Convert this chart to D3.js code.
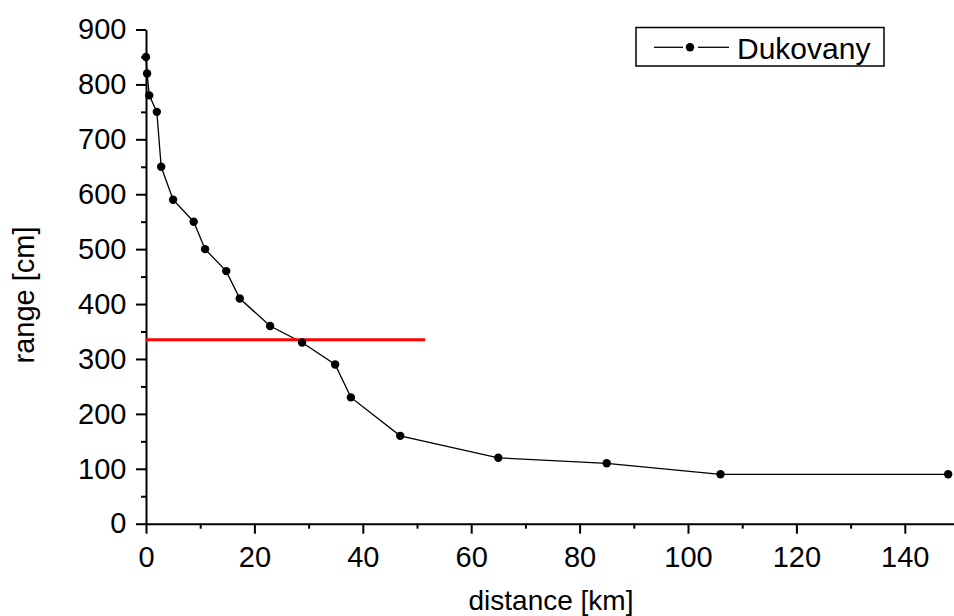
<!DOCTYPE html>
<html>
<head>
<meta charset="utf-8">
<script src="https://cdn.jsdelivr.net/npm/d3@7"></script>
<style>
  html, body { margin: 0; padding: 0; background: #fff; }
  svg { display: block; }
  text { font-family: Arial, "Liberation Sans", sans-serif; fill: #000; }
</style>
</head>
<body>
<svg id="chart" width="954" height="616"></svg>
<script>
// ---- data ----
const distanceKm = [0, 0.2, 0.6, 2, 2.8, 5, 8.8, 10.9, 14.8, 17.3, 22.9, 28.8, 34.9, 37.8, 46.9, 65, 85, 106, 148];
const rangeCm    = [850, 820, 780, 750, 650, 590, 550, 500, 460, 410, 360, 330, 290, 230, 160, 120, 110, 90, 90];
const seriesName = "Dukovany";
const thresholdY = 335;
const thresholdX = [0, 51.5];
const xTicks = [0, 20, 40, 60, 80, 100, 120, 140];
const yTicks = [0, 100, 200, 300, 400, 500, 600, 700, 800, 900];
const xMinorTicks = [10, 30, 50, 70, 90, 110, 130, 150];
const yMinorTicks = [50, 150, 250, 350, 450, 550, 650, 750, 850];
const xLabel = "distance [km]";
const yLabel = "range [cm]";

// ---- layout ----
const svg = d3.select("#chart");
const x = d3.scaleLinear().domain([0, 150]).range([146, 959]);
const y = d3.scaleLinear().domain([0, 900]).range([523.7, 29.5]);

// minor ticks
const xMinorAxis = d3.axisBottom(x).tickValues(xMinorTicks).tickSize(5).tickFormat("").tickSizeOuter(0);
const yMinorAxis = d3.axisLeft(y).tickValues(yMinorTicks).tickSize(5).tickFormat("").tickSizeOuter(0);

const gxm = svg.append("g").attr("transform", `translate(0,${y(0)})`).call(xMinorAxis);
const gym = svg.append("g").attr("transform", `translate(${x(0)},0)`).call(yMinorAxis);
[gxm, gym].forEach(g => {
  g.select(".domain").remove();
  g.selectAll("line").attr("stroke", "#000").attr("stroke-width", 2);
});

// major axes
const xAxis = d3.axisBottom(x).tickValues(xTicks).tickSize(10).tickPadding(12.3).tickSizeOuter(0);
const yAxis = d3.axisLeft(y).tickValues(yTicks).tickSize(10).tickPadding(9.5).tickSizeOuter(0);

const gx = svg.append("g").attr("transform", `translate(0,${y(0)})`).call(xAxis);
const gy = svg.append("g").attr("transform", `translate(${x(0)},0)`).call(yAxis);
[gx, gy].forEach(g => {
  g.select(".domain").attr("stroke", "#000").attr("stroke-width", 2);
  g.selectAll("line").attr("stroke", "#000").attr("stroke-width", 2);
  g.selectAll("text").style("font-size", "29px").attr("fill", "#000")
    .style("font-family", "Arial, 'Liberation Sans', sans-serif");
});

// axis titles
svg.append("text")
  .attr("x", 551).attr("y", 610)
  .attr("text-anchor", "middle")
  .style("font-size", "28px")
  .text(xLabel);

svg.append("text")
  .attr("transform", "translate(34,295) rotate(-90)")
  .attr("text-anchor", "middle")
  .style("font-size", "29px")
  .text(yLabel);

// series line
const pts = distanceKm.map((d, i) => [d, rangeCm[i]]);
const line = d3.line().x(d => x(d[0])).y(d => y(d[1]));
svg.append("path")
  .datum(pts)
  .attr("d", line)
  .attr("fill", "none")
  .attr("stroke", "#000")
  .attr("stroke-width", 1.3);

// red threshold line
svg.append("line")
  .attr("x1", x(thresholdX[0])).attr("x2", x(thresholdX[1]))
  .attr("y1", y(thresholdY)).attr("y2", y(thresholdY))
  .attr("stroke", "#ff0000")
  .attr("stroke-width", 3);

// points
svg.append("g").selectAll("circle")
  .data(pts).join("circle")
  .attr("cx", d => x(d[0]))
  .attr("cy", d => y(d[1]))
  .attr("r", 4.2)
  .attr("fill", "#000");

// legend
const lg = svg.append("g");
lg.append("rect")
  .attr("x", 636).attr("y", 27.5).attr("width", 248).attr("height", 38.5)
  .attr("fill", "#fff").attr("stroke", "#000").attr("stroke-width", 1.5);
lg.append("line").attr("x1", 654).attr("x2", 683).attr("y1", 47.3).attr("y2", 47.3)
  .attr("stroke", "#000").attr("stroke-width", 1.3);
lg.append("line").attr("x1", 698).attr("x2", 729).attr("y1", 47.3).attr("y2", 47.3)
  .attr("stroke", "#000").attr("stroke-width", 1.3);
lg.append("circle").attr("cx", 690).attr("cy", 47.3).attr("r", 4.2).attr("fill", "#000");
lg.append("text")
  .attr("x", 737).attr("y", 59.3)
  .style("font-size", "30px")
  .text(seriesName);
</script>
</body>
</html>
